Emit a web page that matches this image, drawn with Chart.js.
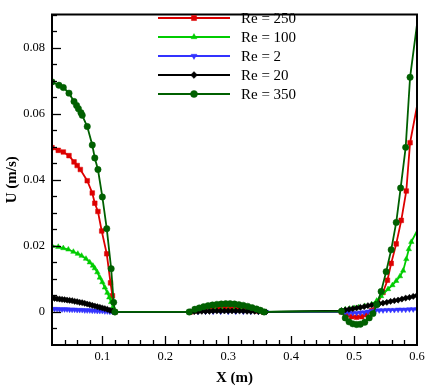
<!DOCTYPE html>
<html>
<head>
<meta charset="utf-8">
<script src="https://cdn.jsdelivr.net/npm/chart.js@4.4.1/dist/chart.umd.min.js"></script>
<style>
  html, body { margin: 0; padding: 0; background: #fff; }
  #wrap { width: 431px; height: 390px; }
</style>
</head>
<body>
<div id="wrap"><canvas id="c" width="431" height="390"></canvas></div>
<script>
// ---------- DATA ----------
const seriesLabels = ['Re = 250', 'Re = 100', 'Re = 2', 'Re = 20', 'Re = 350'];

const re250X = [0.020, 0.030, 0.038, 0.047, 0.055, 0.060, 0.065, 0.076, 0.084, 0.088, 0.093, 0.099, 0.107, 0.113, 0.116, 0.120,
  0.240, 0.250, 0.260, 0.270, 0.278, 0.286, 0.294, 0.302, 0.310, 0.318, 0.326, 0.335, 0.345, 0.356,
  0.480, 0.488, 0.496, 0.504, 0.512, 0.520, 0.528, 0.537, 0.546, 0.553, 0.559, 0.567, 0.575, 0.583, 0.589, 0.600];
const re250Y = [0.0497, 0.0489, 0.0484, 0.0473, 0.0454, 0.0443, 0.0431, 0.0397, 0.0360, 0.0329, 0.0304, 0.0245, 0.0176, 0.0088, 0.0049, 0.0000,
  0.0000, 0.0003, 0.0006, 0.0008, 0.0010, 0.0011, 0.0011, 0.0011, 0.0011, 0.0010, 0.0008, 0.0006, 0.0003, 0.0000,
  0.0000, -0.0008, -0.0014, -0.0016, -0.0014, -0.0008, 0.0004, 0.0025, 0.0059, 0.0096, 0.0147, 0.0206, 0.0277, 0.0366, 0.0512, 0.0623];

const re100X = [0.020, 0.030, 0.038, 0.046, 0.054, 0.061, 0.067, 0.074, 0.080, 0.085, 0.088, 0.092, 0.096, 0.100, 0.104, 0.108, 0.111, 0.114, 0.117, 0.120,
  0.240, 0.250, 0.260, 0.270, 0.280, 0.290, 0.300, 0.310, 0.320, 0.330, 0.340, 0.350, 0.358,
  0.480, 0.486, 0.493, 0.500, 0.507, 0.517, 0.528, 0.536, 0.543, 0.554, 0.561, 0.567, 0.573, 0.578, 0.583, 0.587, 0.591, 0.600];
const re100Y = [0.0200, 0.0197, 0.0193, 0.0189, 0.0182, 0.0176, 0.0170, 0.0161, 0.0150, 0.0140, 0.0132, 0.0120, 0.0104, 0.0090, 0.0074, 0.0058, 0.0044, 0.0030, 0.0015, 0.0000,
  0.0000, 0.0002, 0.0003, 0.0004, 0.0005, 0.0005, 0.0005, 0.0005, 0.0005, 0.0004, 0.0003, 0.0002, 0.0000,
  0.0003, 0.0008, 0.0010, 0.0012, 0.0014, 0.0018, 0.0023, 0.0034, 0.0048, 0.0069, 0.0081, 0.0094, 0.0108, 0.0125, 0.0160, 0.0190, 0.0212, 0.0245];

const re2X = [0.020, 0.024, 0.028, 0.032, 0.036, 0.040, 0.044, 0.048, 0.052, 0.056, 0.060, 0.064, 0.068, 0.072, 0.076, 0.080, 0.084, 0.088, 0.092, 0.096, 0.100, 0.104, 0.108, 0.112, 0.116, 0.120,
  0.240, 0.252, 0.264, 0.276, 0.288, 0.300, 0.312, 0.324, 0.336, 0.348, 0.360,
  0.480, 0.486, 0.492, 0.498, 0.504, 0.510, 0.516, 0.522, 0.528, 0.534, 0.540, 0.546, 0.552, 0.558, 0.564, 0.570, 0.576, 0.582, 0.588, 0.594, 0.600];
const re2Y = [0.0009, 0.0009, 0.0009, 0.0008, 0.0008, 0.0008, 0.0008, 0.0007, 0.0007, 0.0007, 0.0006, 0.0006, 0.0006, 0.0005, 0.0005, 0.0005, 0.0004, 0.0004, 0.0003, 0.0003, 0.0003, 0.0002, 0.0002, 0.0001, 0.0001, 0.0000,
  0.0000, 0.0001, 0.0001, 0.0001, 0.0001, 0.0001, 0.0001, 0.0001, 0.0001, 0.0001, 0.0000,
  0.0000, -0.0001, -0.0002, -0.0003, -0.0003, -0.0002, -0.0001, 0.0001, 0.0003, 0.0004, 0.0005, 0.0005, 0.0006, 0.0006, 0.0006, 0.0007, 0.0007, 0.0007, 0.0008, 0.0008, 0.0008];

const re20X = [0.020, 0.024, 0.028, 0.032, 0.036, 0.040, 0.044, 0.048, 0.052, 0.056, 0.060, 0.064, 0.068, 0.072, 0.076, 0.080, 0.084, 0.088, 0.092, 0.096, 0.100, 0.104, 0.108, 0.112, 0.116, 0.120,
  0.240, 0.246, 0.252, 0.258, 0.264, 0.270, 0.276, 0.282, 0.288, 0.294, 0.300, 0.306, 0.312, 0.318, 0.324, 0.330, 0.336, 0.342, 0.348, 0.354, 0.360,
  0.480, 0.486, 0.492, 0.498, 0.504, 0.510, 0.516, 0.522, 0.528, 0.534, 0.540, 0.546, 0.552, 0.558, 0.564, 0.570, 0.576, 0.582, 0.588, 0.594, 0.600];
const re20Y = [0.0042, 0.0041, 0.0040, 0.0039, 0.0038, 0.0037, 0.0036, 0.0035, 0.0034, 0.0032, 0.0031, 0.0029, 0.0028, 0.0026, 0.0024, 0.0022, 0.0020, 0.0018, 0.0016, 0.0014, 0.0012, 0.0010, 0.0008, 0.0005, 0.0003, 0.0000,
  0.0000, 0.0001, 0.0001, 0.0002, 0.0002, 0.0002, 0.0003, 0.0003, 0.0003, 0.0003, 0.0003, 0.0003, 0.0003, 0.0003, 0.0003, 0.0002, 0.0002, 0.0002, 0.0001, 0.0001, 0.0000,
  0.0004, 0.0006, 0.0008, 0.0010, 0.0012, 0.0014, 0.0016, 0.0019, 0.0021, 0.0023, 0.0025, 0.0027, 0.0029, 0.0032, 0.0034, 0.0036, 0.0039, 0.0042, 0.0044, 0.0047, 0.0050];

const re350X = [0.020, 0.031, 0.038, 0.047, 0.055, 0.059, 0.062, 0.066, 0.068, 0.076, 0.084, 0.088, 0.093, 0.100, 0.107, 0.114, 0.118, 0.120,
  0.238, 0.247, 0.254, 0.261, 0.268, 0.275, 0.282, 0.289, 0.296, 0.303, 0.310, 0.317, 0.324, 0.331, 0.338, 0.345, 0.351, 0.357,
  0.480, 0.486, 0.492, 0.498, 0.504, 0.510, 0.517, 0.524, 0.530, 0.536, 0.543, 0.551, 0.559, 0.567, 0.574, 0.582, 0.589, 0.600];
const re350Y = [0.0696, 0.0686, 0.0679, 0.0662, 0.0637, 0.0625, 0.0615, 0.0603, 0.0595, 0.0561, 0.0505, 0.0466, 0.0431, 0.0348, 0.0252, 0.0131, 0.0029, 0.0000,
  0.0000, 0.0008, 0.0012, 0.0016, 0.0019, 0.0021, 0.0023, 0.0024, 0.0025, 0.0025, 0.0024, 0.0022, 0.0020, 0.0017, 0.0013, 0.0009, 0.0005, 0.0000,
  0.0002, -0.0018, -0.0030, -0.0036, -0.0038, -0.0037, -0.0031, -0.0018, -0.0005, 0.0022, 0.0062, 0.0122, 0.0188, 0.0271, 0.0375, 0.0498, 0.0710, 0.0870];

const xTickValues = [0.1, 0.2, 0.3, 0.4, 0.5, 0.6];
const xTickLabels = ['0.1', '0.2', '0.3', '0.4', '0.5', '0.6'];
const yTickValues = [0, 0.02, 0.04, 0.06, 0.08];
const yTickLabels = ['0', '0.02', '0.04', '0.06', '0.08'];

// ---------- STYLES ----------
const styles = [
  { color: '#dd0000', pointStyle: 'rect', radius: 3.3, rotation: 0 },
  { color: '#00cc00', pointStyle: 'triangle', radius: 3.1, rotation: 0 },
  { color: '#3333ff', pointStyle: 'triangle', radius: 3.1, rotation: 180 },
  { color: '#000000', pointStyle: 'rectRot', radius: 3.1, rotation: 0 },
  { color: '#006000', pointStyle: 'circle', radius: 3.2, rotation: 0 }
];
const seriesX = [re250X, re100X, re2X, re20X, re350X];
const seriesY = [re250Y, re100Y, re2Y, re20Y, re350Y];

const datasets = seriesLabels.map((lab, i) => {
  const st = styles[i];
  const pts = seriesX[i].map((x, j) => ({ x: x, y: seriesY[i][j] }));
  return {
    label: lab,
    data: pts,
    showLine: true,
    borderColor: st.color,
    backgroundColor: st.color,
    borderWidth: 1.8,
    tension: 0,
    pointStyle: st.pointStyle,
    pointRotation: st.rotation,
    pointRadius: (c) => (c.dataIndex === pts.length - 1 && i !== 2 && i !== 3) ? 0 : st.radius,
    pointBorderWidth: 0.5,
    pointBorderColor: st.color,
    pointBackgroundColor: st.color,
    order: seriesLabels.length - 1 - i
  };
});

const SERIF = '"Liberation Serif", "Times New Roman", serif';

const framePlugin = {
  id: 'frame',
  afterDatasetsDraw(chart) {
    const { ctx, chartArea: a, scales } = chart;
    const xs = scales.x, ys = scales.y;
    ctx.save();
    ctx.strokeStyle = '#000';
    ctx.lineWidth = 1.3;
    for (let k = -2; k <= 18; k++) {
      const py = Math.round(ys.getPixelForValue(k * 0.005)) + 0.5;
      if (py < a.top + 1 || py > a.bottom - 1) continue;
      const len = (k % 4 === 0) ? 9 : 5;
      ctx.beginPath();
      ctx.moveTo(a.left, py);
      ctx.lineTo(a.left + len, py);
      ctx.stroke();
    }
    for (let k = 2; k <= 29; k++) {
      const px = Math.round(xs.getPixelForValue(k * 0.02)) + 0.5;
      const len = (k % 5 === 0) ? 9 : 5;
      ctx.beginPath();
      ctx.moveTo(px, a.bottom);
      ctx.lineTo(px, a.bottom - len);
      ctx.stroke();
    }
    ctx.lineWidth = 2;
    ctx.strokeRect(a.left, a.top, a.right - a.left, a.bottom - a.top);

    // legend
    const lx0 = 158, lx1 = 230, mx = 194, tx = 241, ty0 = 18, dy = 19;
    ctx.font = '15px ' + SERIF;
    ctx.textBaseline = 'middle';
    ctx.textAlign = 'left';
    seriesLabels.forEach((lab, i) => {
      const st = styles[i];
      const y = ty0 + dy * i;
      ctx.strokeStyle = st.color;
      ctx.fillStyle = st.color;
      ctx.lineWidth = 2;
      ctx.beginPath();
      ctx.moveTo(lx0, y);
      ctx.lineTo(lx1, y);
      ctx.stroke();
      ctx.lineWidth = 0.5;
      Chart.helpers.drawPoint(ctx, { pointStyle: st.pointStyle, rotation: st.rotation, radius: st.radius + 0.3, borderWidth: 0.5 }, mx, y);
      ctx.fillStyle = '#000';
      ctx.fillText(lab, tx, y + 1);
    });
    ctx.restore();
  }
};

new Chart(document.getElementById('c'), {
  type: 'scatter',
  data: { datasets },
  plugins: [framePlugin],
  options: {
    responsive: false,
    animation: false,
    events: [],
    layout: { padding: { left: 0, right: 14, top: 5, bottom: 0 } },
    plugins: { legend: { display: false }, tooltip: { enabled: false } },
    scales: {
      x: {
        type: 'linear', min: 0.02, max: 0.6,
        grid: { display: false, drawTicks: false },
        border: { display: false },
        afterBuildTicks: (s) => { s.ticks = xTickValues.map(v => ({ value: v })); },
        afterFit: (s) => { s.height = 45; },
        ticks: {
          padding: 4,
          autoSkip: false, maxRotation: 0,
          color: '#000',
          font: { family: SERIF, size: 12.5 },
          callback: (v) => { const i = xTickValues.indexOf(v); return i >= 0 ? xTickLabels[i] : ''; }
        },
        title: { display: true, text: 'X (m)', color: '#000', font: { family: SERIF, size: 15, weight: 'bold' }, padding: { top: 0, bottom: 3 } }
      },
      y: {
        type: 'linear', min: -0.01, max: 0.09,
        grid: { display: false, drawTicks: false },
        border: { display: false },
        afterBuildTicks: (s) => { s.ticks = yTickValues.map(v => ({ value: v })); },
        afterFit: (s) => { s.width = 52; },
        ticks: {
          padding: 7,
          autoSkip: false,
          color: '#000',
          font: { family: SERIF, size: 12.5 },
          callback: (v) => { const i = yTickValues.indexOf(v); return i >= 0 ? yTickLabels[i] : ''; }
        },
        title: { display: true, text: 'U (m/s)', color: '#000', font: { family: SERIF, size: 15, weight: 'bold' }, padding: { top: 3, bottom: 0 } }
      }
    }
  }
});
</script>
</body>
</html>
